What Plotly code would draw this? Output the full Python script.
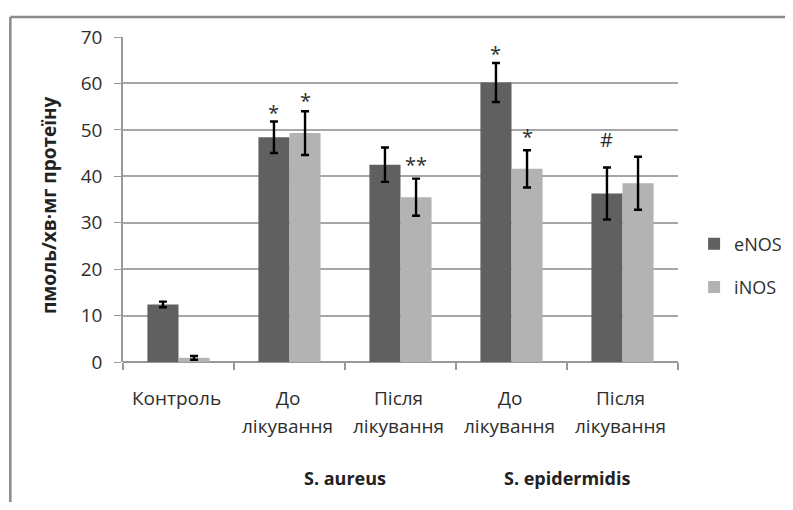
import plotly.graph_objects as go

cat_line1 = ["Контроль", "До", "Після", "До", "Після"]
cat_line2 = ["", "лікування", "лікування", "лікування", "лікування"]
enos = [12.4, 48.4, 42.5, 60.2, 36.3]
enos_err = [0.6, 3.4, 3.7, 4.2, 5.6]
inos = [0.9, 49.3, 35.5, 41.6, 38.5]
inos_err = [0.4, 4.7, 4.0, 4.0, 5.7]
enos_marks = ["", "*", "", "*", "#"]
enos_mark_y = [None, 54.3, None, 67.0, 47.1]
inos_marks = ["", "*", "**", "*", ""]
inos_mark_y = [None, 56.9, 43.1, 49.3, None]
groups = ["S. aureus", "S. epidermidis"]
group_pos = [1.5, 3.5]
yticks = [0, 10, 20, 30, 40, 50, 60, 70]

FONT = "Open Sans, sans-serif"
TXT = "#2e2e2e"

x = list(range(len(cat_line1)))

fig = go.Figure()
fig.add_trace(go.Bar(
    x=x, y=enos, name="eNOS", marker=dict(color="#606060", line=dict(width=0)),
    error_y=dict(type="data", array=enos_err, color="black", thickness=2.4, width=4),
    legendgroup="a",
))
fig.add_trace(go.Bar(
    x=x, y=inos, name="iNOS", marker=dict(color="#b3b3b3", line=dict(width=0)),
    error_y=dict(type="data", array=inos_err, color="black", thickness=2.4, width=4),
    legendgroup="b",
))

bw = 0.28


def add_mark(xpos, ypos, txt):
    fig.add_annotation(x=xpos, y=ypos, text=txt, showarrow=False, yanchor="middle",
                       yshift=-3 if "*" in txt else 4,
                       font=dict(family=FONT, size=20, color=TXT))


for i in x:
    if enos_marks[i]:
        add_mark(i - bw / 2, enos_mark_y[i], enos_marks[i])
    if inos_marks[i]:
        add_mark(i + bw / 2, inos_mark_y[i], inos_marks[i])

for i in x:
    fig.add_annotation(x=i, xref="x", y=-0.111, yref="paper", text=cat_line1[i],
                       showarrow=False, yanchor="middle", xshift=-2,
                       font=dict(family=FONT, size=19, color=TXT))
    if cat_line2[i]:
        fig.add_annotation(x=i, xref="x", y=-0.197, yref="paper", text=cat_line2[i],
                           showarrow=False, yanchor="middle", xshift=-2,
                           font=dict(family=FONT, size=19, color=TXT))

for g, p in zip(groups, group_pos):
    fig.add_annotation(x=p, xref="x", y=-0.357, yref="paper", text="<b>" + g + "</b>",
                       showarrow=False, yanchor="middle",
                       font=dict(family=FONT, size=18, color="#222222"))

fig.add_annotation(x=-0.132, y=0.482, xref="paper", yref="paper", textangle=-90,
                   xanchor="center", yanchor="middle",
                   text="<b>пмоль/хв·мг протеїну</b>", showarrow=False,
                   font=dict(family=FONT, size=19, color="#222222"))

# outer frame
fig.add_shape(type="line", xref="paper", yref="paper", x0=-0.203, x1=1.3, y0=1.0615, y1=1.0615,
              line=dict(color="#8a8a8a", width=2.5))
fig.add_shape(type="line", xref="paper", yref="paper", x0=-0.203, x1=-0.203, y0=1.0615, y1=-0.5,
              line=dict(color="#8a8a8a", width=2.5))

fig.update_layout(
    width=777, height=494,
    margin=dict(l=114.7, r=107, t=29, b=140, autoexpand=False),
    paper_bgcolor="white", plot_bgcolor="white",
    barmode="group", bargap=0.44, bargroupgap=0,
    font=dict(family=FONT, size=19, color=TXT),
    legend=dict(x=1.029, y=0.297, xanchor="left", yanchor="middle", tracegroupgap=17,
                font=dict(size=18, color=TXT)),
    showlegend=True,
)
fig.update_xaxes(
    range=[-0.5, 4.5], showticklabels=False,
    showgrid=False, showline=False, zeroline=False, ticks="",
)
fig.update_xaxes(minor=dict(tickvals=[-0.5, 0.5, 1.5, 2.5, 3.5, 4.5], ticks="outside", ticklen=7,
                            tickcolor="#999999", tickwidth=1.5, showgrid=False))
fig.update_yaxes(
    range=[0, 70], tickvals=yticks, showgrid=True, gridcolor="#a6a6a6", gridwidth=1.5,
    showline=True, linecolor="#999999", linewidth=1.5, ticks="outside", ticklen=7,
    tickcolor="#999999", zeroline=True, zerolinecolor="#999999", zerolinewidth=1.5,
    tickfont=dict(size=19, color=TXT), ticklabelstandoff=8,
)

fig.write_html("out.html")
